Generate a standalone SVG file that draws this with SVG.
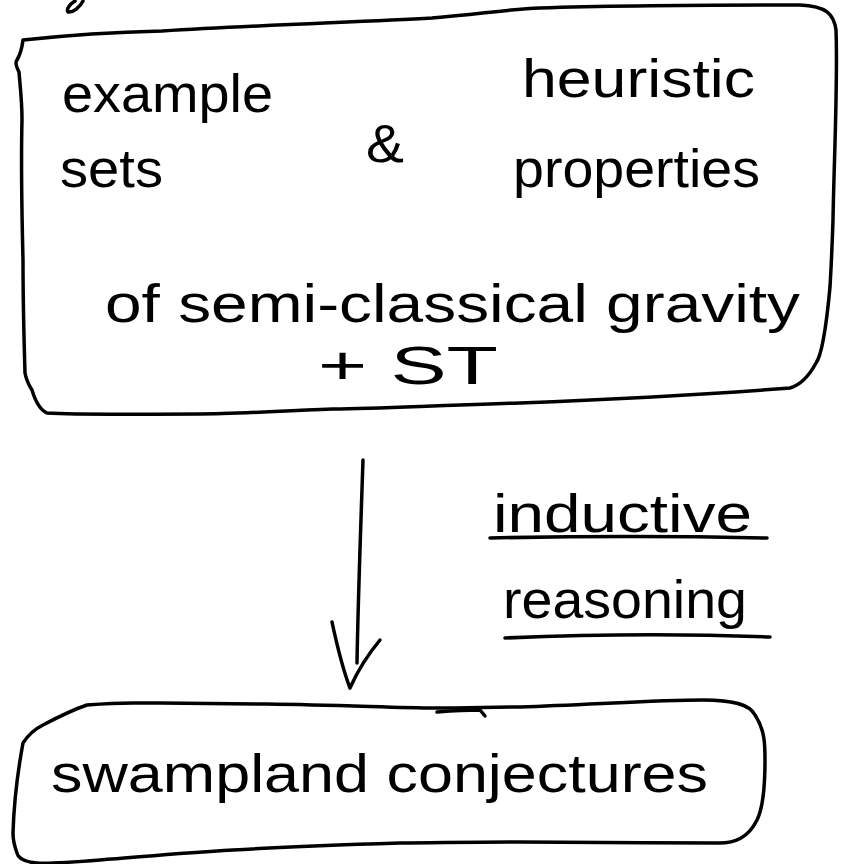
<svg xmlns="http://www.w3.org/2000/svg" width="843" height="864" viewBox="0 0 843 864">
<style>
.ln{fill:none;stroke:#000;stroke-width:3.5;stroke-linecap:round;stroke-linejoin:round}
.t{font-family:"Liberation Sans","DejaVu Sans",sans-serif;fill:#000;font-size:54px}
</style>
<rect width="843" height="864" fill="#fff"/>
<path class="ln" d="M83,1 C80,7 73,13 68,12 C66,9 70,4 75,1"/>
<g id="source">
<path class="ln" d="M23,40 C60,36 120,32 162,31 C260,25 360,22 432,18 C480,14 510,9 540,8 C600,6 700,5 800,5 C826,6 834,14 836,30 C838,80 834,160 833,220 C832,250 831,270 830,287 C826,330 822,355 816,363 C808,378 800,385 790,388 C700,395 600,400 520,403 C420,406 380,409 333,409 C260,412 230,414 200,414 C140,414 80,415 47,413 C40,410 35,400 32,390 C28,384 26,378 25,373 C24,340 23,300 23,260 C22,220 21,160 22,120 C22,100 20,85 19,72 C16,66 15,62 17,60 C20,55 22,48 23,40"/>
<text class="t" x="62" y="112" font-size="56" textLength="211" lengthAdjust="spacingAndGlyphs">example</text>
<text class="t" x="522" y="97" textLength="233" lengthAdjust="spacingAndGlyphs">heuristic</text>
<text class="t" x="60" y="187" font-size="56" textLength="103" lengthAdjust="spacingAndGlyphs">sets</text>
<text class="t" x="366" y="162" font-size="72" textLength="38" lengthAdjust="spacingAndGlyphs">&amp;</text>
<text class="t" x="513" y="187" textLength="247" lengthAdjust="spacingAndGlyphs">properties</text>
<text class="t" x="105" y="322" font-size="52" textLength="695" lengthAdjust="spacingAndGlyphs">of semi-classical gravity</text>
<text class="t" x="318" y="384" font-size="58" textLength="180" lengthAdjust="spacingAndGlyphs">+ ST</text>
</g>
<g id="connectors">
<path class="ln" d="M363,460 C361,520 358,600 357,663"/>
<path class="ln" d="M332,622 C338,650 345,675 350,688 C358,670 370,652 380,640"/>
</g>
<g id="label">
<text class="t" x="493" y="532" font-size="50" textLength="259" lengthAdjust="spacingAndGlyphs">inductive</text>
<path class="ln" d="M490,538 C580,536 680,536 767,538"/>
<text class="t" x="503" y="618" font-size="50" textLength="244" lengthAdjust="spacingAndGlyphs">reasoning</text>
<path class="ln" d="M505,638 C600,634 690,634 770,637"/>
</g>
<g id="target">
<path class="ln" d="M87,705 C100,704 115,703 133,703 C180,703 230,704 267,704 C340,705 400,708 433,708 C470,708 490,707 520,707 C600,704 660,700 703,700 C735,700 750,705 755,715 C765,730 765,745 765,760 C765,790 762,810 757,820 C748,838 735,843 719,843 C650,843 600,842 520,842 C470,842 430,843 400,843 C330,845 280,847 233,850 C180,853 140,857 100,860 C75,862 50,864 37,863 C25,862 18,858 17,853 C14,845 13,840 13,833 C14,800 18,770 23,743 C28,735 35,729 43,725 C60,716 75,709 87,705"/>
<path class="ln" d="M437,712 C450,711 465,710 480,710 L485,716"/>
<text class="t" x="51" y="792" font-size="60" textLength="657" lengthAdjust="spacingAndGlyphs">swampland conjectures</text>
</g>
</svg>
